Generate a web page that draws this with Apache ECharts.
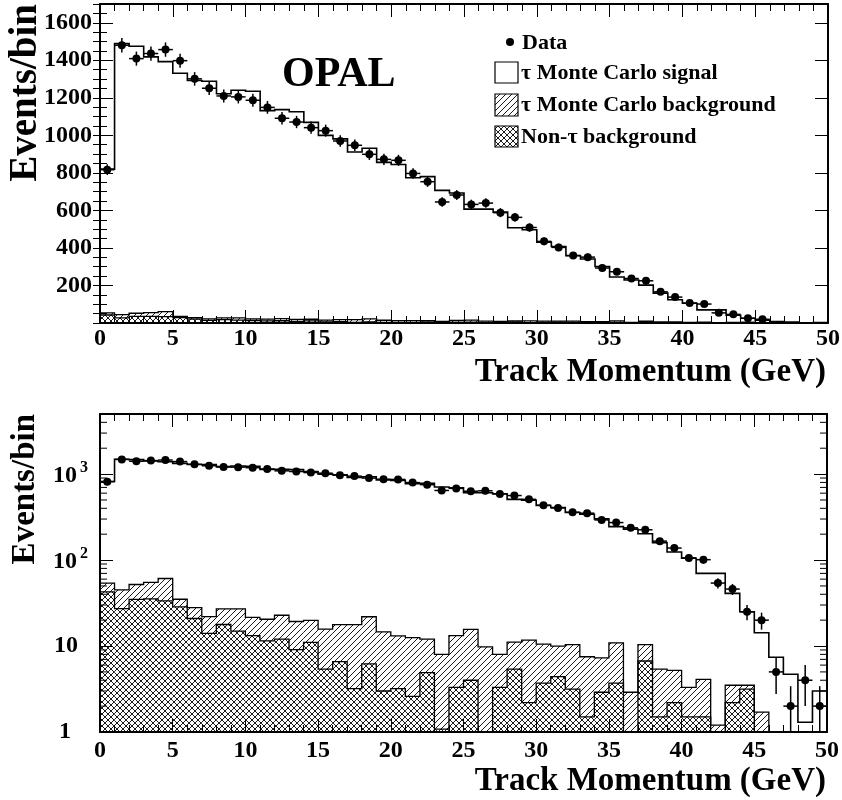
<!DOCTYPE html>
<html><head><meta charset="utf-8">
<script src="https://cdn.jsdelivr.net/npm/echarts/dist/echarts.min.js"></script>
<style>html,body{margin:0;padding:0;background:#fff}#c{width:842px;height:800px}</style>
</head><body><div id="c"></div>
<script>
// ---- data (bin lower edges in GeV, 1 GeV wide bins) ----
const binLow = [0,1,2,3,4,5,6,7,8,9,10,11,12,13,14,15,16,17,18,19,20,21,22,23,24,25,26,27,28,29,30,31,32,33,34,35,36,37,38,39,40,41,42,43,44,45,46,47,48,49];
const dataCounts = [817,1480,1409,1436,1457,1398,1301,1251,1210,1205,1187,1149,1091,1071,1041,1025,970,947,899,872,867,797,753,645,682,632,639,588,563,509,435,403,360,351,293,273,237,225,166,138,106,101,54,46,25,20,5,2,4,2];
const mcTotal = [820,1489,1475,1418,1393,1331,1292,1288,1222,1240,1235,1132,1137,1126,1069,1000,981,911,931,856,845,774,780,707,693,607,607,591,508,497,431,408,358,341,301,245,229,202,159,124,105,70,70,41,25,14.3,7.4,4.7,1.3,3.0];
const bgTotal = [54,45,52,55,61,35,28,22,27,27,21.5,20.5,22.8,19.3,19.9,15.7,17.7,17.7,21.9,14.6,13.1,12.5,12,8,13.2,15.6,9.8,8,11.1,11.7,10.5,10,10.4,7.5,7.3,10.9,2.9,10.4,5.4,5.2,3.3,4.1,1.2,3.5,3.5,1.7,0,0,0,0];
const bgNonTau = [42.6,27.3,34.8,35.3,33.5,28.5,20.9,14,17.8,14.9,13.2,11.5,12,9.1,11,5.4,6.6,3.2,6.2,3.0,3.2,2.6,4.9,1.08,3.3,4.0,0,3.3,5.4,2.2,3.7,4.4,3.15,1.5,2.9,3.7,0,6.7,1.5,2.2,1.5,1.5,0,2.2,3.15,0,0,0,0,0];
const xRange = [0, 50];
const linRange = [0, 1700];
const logRange = [1, 5000];
const logDecades = [1, 10, 100, 1000];
const logMinorMult = [2,3,4,5,6,7,8,9];
const legendLabels = ['Data', 'τ Monte Carlo signal', 'τ Monte Carlo background', 'Non-τ background'];
const xTitle = 'Track Momentum (GeV)';
const yTitle = 'Events/bin';

// ---- hatch patterns ----
function makePattern(kind) {
  const s = 6;
  const c = document.createElement('canvas');
  c.width = s; c.height = s;
  const g = c.getContext('2d');
  g.strokeStyle = '#000'; g.lineWidth = 0.9;
  g.beginPath();
  g.moveTo(-1, s + 1); g.lineTo(s + 1, -1);
  g.moveTo(-1, 1); g.lineTo(1, -1);
  g.moveTo(s - 1, s + 1); g.lineTo(s + 1, s - 1);
  if (kind === 'cross') {
    g.moveTo(-1, -1); g.lineTo(s + 1, s + 1);
    g.moveTo(-1, s - 1); g.lineTo(1, s + 1);
    g.moveTo(s - 1, -1); g.lineTo(s + 1, 1);
  }
  g.stroke();
  return { image: c, repeat: 'repeat' };
}
const hatchPat = makePattern('hatch');
const crossPat = makePattern('cross');

const FONT = 'Liberation Serif';
const LBL_SIZE = 24;
const lbl = { color: '#000', fontFamily: FONT, fontWeight: 'bold', fontSize: LBL_SIZE };

function xAxes(gridIndex, margin) {
  const common = {
    type: 'value', gridIndex, min: xRange[0], max: xRange[1], interval: 5, z: 10,
    axisLine: { show: true, onZero: false, lineStyle: { color: '#000', width: 2 } },
    axisTick: { show: true, inside: true, length: 13, lineStyle: { color: '#000', width: 1 } },
    minorTick: { show: true, splitNumber: 5, length: 7, lineStyle: { color: '#000', width: 1 } },
    splitLine: { show: false }, minorSplitLine: { show: false }
  };
  return [
    Object.assign({}, common, { position: 'bottom', axisLabel: Object.assign({ margin }, lbl) }),
    Object.assign({}, common, { position: 'top', axisLabel: { show: false } })
  ];
}

function linYAxes(gridIndex) {
  const base = { type: 'value', gridIndex, min: linRange[0], max: linRange[1], z: 10, splitLine: { show: false } };
  const tick = (len) => ({ show: true, inside: true, length: len, lineStyle: { color: '#000', width: 1 } });
  const line = { show: true, onZero: false, lineStyle: { color: '#000', width: 2 } };
  return [
    Object.assign({}, base, { position: 'left', interval: 200, axisLine: line, axisTick: tick(13),
      axisLabel: Object.assign({ margin: 8, formatter: v => (v > 0 && v % 200 === 0) ? String(v) : '' }, lbl) }),
    Object.assign({}, base, { position: 'left', interval: 50, axisLine: { show: false }, axisTick: tick(7), axisLabel: { show: false } }),
    Object.assign({}, base, { position: 'right', interval: 200, axisLine: line, axisTick: tick(13), axisLabel: { show: false } }),
    Object.assign({}, base, { position: 'right', interval: 50, axisLine: { show: false }, axisTick: tick(7), axisLabel: { show: false } })
  ];
}

function logYAxes(gridIndex) {
  const base = { type: 'log', logBase: 10, gridIndex, min: logRange[0], max: logRange[1], z: 10, splitLine: { show: false },
    axisLine: { show: true, onZero: false, lineStyle: { color: '#000', width: 2 } },
    axisTick: { show: true, inside: true, length: 13, lineStyle: { color: '#000', width: 1 } } };
  const t = (extra) => Object.assign({ fontFamily: FONT, fontWeight: 'bold', fontSize: LBL_SIZE, color: '#000' }, extra);
  return [
    Object.assign({}, base, { position: 'left', axisLabel: {
      margin: 12, color: '#000', fontFamily: FONT, fontWeight: 'bold', fontSize: LBL_SIZE,
      formatter: v => {
        const e = Math.round(Math.log10(v));
        if (Math.abs(Math.pow(10, e) - v) > 1e-6 * v) return '';
        if (e === 0) return '{p1|1}';
        if (e === 1) return '{p10|10}';
        return '{b|10}{s|' + e + '}';
      },
      rich: {
        p1: t({ padding: [0, 17, 0, 0] }),
        p10: t({ padding: [0, 10, 0, 0] }),
        b: t({ verticalAlign: 'bottom' }),
        s: t({ fontSize: 16, padding: [0, 0, 12, 3], verticalAlign: 'bottom' })
      }
    } }),
    Object.assign({}, base, { position: 'right', axisLabel: { show: false } })
  ];
}

function stepPts(api, values, floor) {
  const pts = [];
  for (let i = 0; i < binLow.length; i++) {
    const v = Math.max(values[i], floor);
    pts.push(api.coord([binLow[i], v]));
    pts.push(api.coord([binLow[i] + 1, v]));
  }
  return pts;
}

function seriesFor(xi, yi, floor, isLog) {
  const binData = binLow.map((b, i) => [b + 0.5, mcTotal[i]]);
  const out = [];
  out.push({
    type: 'custom', xAxisIndex: xi, yAxisIndex: yi, data: binData, z: 2, silent: true,
    renderItem: (params, api) => {
      const i = params.dataIndex;
      const x0 = binLow[i], x1 = binLow[i] + 1;
      const children = [];
      const nt = bgNonTau[i], tot = bgTotal[i];
      if (nt > floor) {
        const a = api.coord([x0, floor]), b = api.coord([x1, nt]);
        children.push({ type: 'rect', shape: { x: a[0], y: b[1], width: b[0] - a[0], height: a[1] - b[1] }, style: { fill: crossPat } });
      }
      const lo = Math.max(nt, floor);
      if (tot > lo) {
        const a = api.coord([x0, lo]), b = api.coord([x1, tot]);
        children.push({ type: 'rect', shape: { x: a[0], y: b[1], width: b[0] - a[0], height: a[1] - b[1] }, style: { fill: hatchPat } });
      }
      return { type: 'group', children };
    }
  });
  out.push({
    type: 'custom', xAxisIndex: xi, yAxisIndex: yi, data: [[25, mcTotal[25]]], z: 3, silent: true,
    renderItem: (params, api) => ({
      type: 'group', children: [
        { type: 'polyline', shape: { points: stepPts(api, bgNonTau, floor) }, style: { stroke: '#000', lineWidth: 1.3, fill: null } },
        { type: 'polyline', shape: { points: stepPts(api, bgTotal, floor) }, style: { stroke: '#000', lineWidth: 1.3, fill: null } },
        { type: 'polyline', shape: { points: stepPts(api, mcTotal, floor) }, style: { stroke: '#000', lineWidth: 1.6, fill: null } }
      ]
    })
  });
  out.push({
    type: 'custom', xAxisIndex: xi, yAxisIndex: yi, data: binLow.map((b, i) => [b + 0.5, dataCounts[i]]), z: 4, silent: true,
    renderItem: (params, api) => {
      const i = params.dataIndex;
      const n = dataCounts[i];
      const err = Math.sqrt(n);
      const c = binLow[i] + 0.5;
      const p = api.coord([c, n]);
      const base = api.coord([c, floor]);
      if (!isLog && base[1] - p[1] < 3) return { type: 'group', children: [] };
      const lo = api.coord([c, Math.max(n - err, floor)]);
      const hi = api.coord([c, n + err]);
      const l = api.coord([binLow[i], n]), r = api.coord([binLow[i] + 1, n]);
      return { type: 'group', children: [
        { type: 'line', shape: { x1: lo[0], y1: lo[1], x2: hi[0], y2: hi[1] }, style: { stroke: '#000', lineWidth: 1.5 } },
        { type: 'line', shape: { x1: l[0], y1: l[1], x2: r[0], y2: r[1] }, style: { stroke: '#000', lineWidth: 1.5 } },
        { type: 'circle', shape: { cx: p[0], cy: p[1], r: 4 }, style: { fill: '#000' } }
      ] };
    }
  });
  if (isLog) {
    out.push({
      type: 'custom', xAxisIndex: xi, yAxisIndex: yi, data: [[25, 10]], z: 11, silent: true,
      renderItem: (params, api) => {
        const children = [];
        logDecades.forEach(d => logMinorMult.forEach(m => {
          const v = d * m;
          if (v >= logRange[1]) return;
          const L = api.coord([xRange[0], v]), R = api.coord([xRange[1], v]);
          children.push({ type: 'line', shape: { x1: L[0], y1: L[1], x2: L[0] + 7, y2: L[1] }, style: { stroke: '#000', lineWidth: 1 } });
          children.push({ type: 'line', shape: { x1: R[0] - 7, y1: R[1], x2: R[0], y2: R[1] }, style: { stroke: '#000', lineWidth: 1 } });
        }));
        return { type: 'group', children };
      }
    });
  }
  return out;
}

function txt(text, x, y, size, align, valign, extra) {
  return Object.assign({
    type: 'text', x, y, z: 20, silent: true,
    style: { text, font: 'bold ' + size + 'px "' + FONT + '"', fill: '#000', textAlign: align, align: align, textVerticalAlign: valign, verticalAlign: valign, x: 0, y: 0 }
  }, extra || {});
}

const chart = echarts.init(document.getElementById('c'), null, { renderer: 'canvas' });
chart.setOption({
  animation: false,
  backgroundColor: '#fff',
  grid: [
    { left: 100, top: 4, width: 728, height: 319, containLabel: false, outerBoundsMode: 'none' },
    { left: 100, top: 414, width: 727, height: 318, containLabel: false, outerBoundsMode: 'none' }
  ],
  xAxis: [].concat(xAxes(0, 4), xAxes(1, 7)),
  yAxis: [].concat(linYAxes(0), logYAxes(1)),
  series: [].concat(seriesFor(0, 0, 0, false), seriesFor(2, 4, 1, true)),
  graphic: [
    txt('OPAL', 282, 75, 42, 'left', 'middle'),
    { type: 'circle', shape: { cx: 510, cy: 42, r: 4 }, style: { fill: '#000' }, z: 20, silent: true },
    txt(legendLabels[0], 522, 43, 22, 'left', 'middle'),
    { type: 'rect', shape: { x: 495, y: 62, width: 23, height: 21 }, style: { fill: '#fff', stroke: '#000', lineWidth: 1.2 }, z: 20, silent: true },
    txt(legendLabels[1], 521, 73, 22, 'left', 'middle'),
    { type: 'rect', shape: { x: 495, y: 94, width: 23, height: 22 }, style: { fill: hatchPat, stroke: '#000', lineWidth: 1.2 }, z: 20, silent: true },
    txt(legendLabels[2], 521, 105, 22, 'left', 'middle'),
    { type: 'rect', shape: { x: 495, y: 126, width: 23, height: 21 }, style: { fill: crossPat, stroke: '#000', lineWidth: 1.2 }, z: 20, silent: true },
    txt(legendLabels[3], 521, 137, 22, 'left', 'middle'),
    txt(xTitle, 826, 372, 33, 'right', 'middle'),
    txt(xTitle, 826, 781, 33, 'right', 'middle'),
    txt(yTitle, 26, 4, 39, 'right', 'middle', { rotation: Math.PI / 2 }),
    txt(yTitle, 25, 414, 33, 'right', 'middle', { rotation: Math.PI / 2 })
  ]
});
</script></body></html>
